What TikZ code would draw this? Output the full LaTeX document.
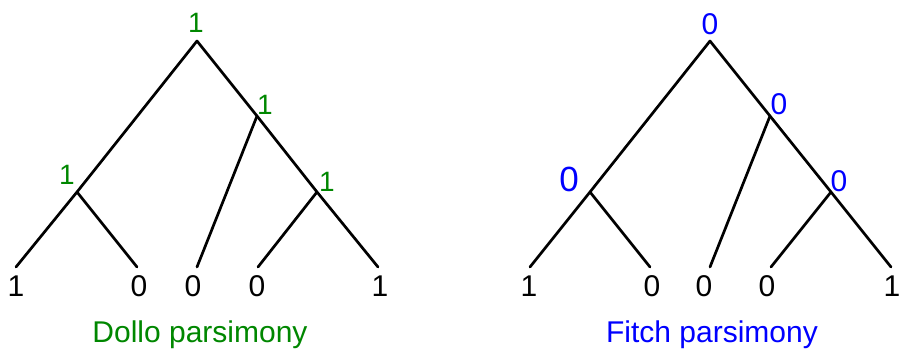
\documentclass[tikz,border=0pt]{standalone}
\usepackage{fontspec}
\setmainfont{Liberation Sans}
\definecolor{dgreen}{RGB}{0,135,0}
\definecolor{fblue}{RGB}{0,0,255}
\begin{document}
\begin{tikzpicture}[x=1pt,y=-1pt,
  branch/.style={line width=2.7pt,line cap=round,line join=round},
  leaflab/.style={inner sep=0pt,anchor=base,font=\fontsize{30}{36}\selectfont},
  dollolab/.style={inner sep=0pt,anchor=base,text=dgreen,font=\fontsize{28}{34}\selectfont},
  fitchlab/.style={inner sep=0pt,anchor=base,text=fblue,font=\fontsize{30}{36}\selectfont},
  caption/.style={inner sep=0pt,anchor=base,font=\fontsize{30}{36}\selectfont}]
\useasboundingbox (0,0) rectangle (899,352);
% ---------- Dollo tree ----------
\coordinate (dr) at (197,41);
\coordinate (dR) at (257,116);
\coordinate (dL) at (77,192);
\coordinate (dRR) at (317,192);
\coordinate (d1) at (16,267);
\coordinate (d2) at (137,267);
\coordinate (d3) at (197,267);
\coordinate (d4) at (258,267);
\coordinate (d5) at (378,267);
\draw[branch] (d1) -- (dL) -- (dr) -- (dR) -- (dRR) -- (d5);
\draw[branch] (dL) -- (d2);
\draw[branch] (dR) -- (d3);
\draw[branch] (dRR) -- (d4);
\node[dollolab] (dlr) at (196,33) {1};
\node[dollolab] (dlR) at (265,115) {1};
\node[dollolab] (dlL) at (67,185) {1};
\node[dollolab] (dlRR) at (327,192) {1};
\node[leaflab] (dt1) at (16,297) {1};
\node[leaflab] (dt2) at (139,297) {0};
\node[leaflab] (dt3) at (193,297) {0};
\node[leaflab] (dt4) at (257,297) {0};
\node[leaflab] (dt5) at (380,297) {1};
\node[caption,text=dgreen] (dcap) at (200,343) {Dollo parsimony};
% ---------- Fitch tree ----------
\coordinate (fr) at (710,41);
\coordinate (fR) at (770,116);
\coordinate (fL) at (590,192);
\coordinate (fRR) at (831,192);
\coordinate (f1) at (530,267);
\coordinate (f2) at (650,267);
\coordinate (f3) at (710,267);
\coordinate (f4) at (771,267);
\coordinate (f5) at (891,267);
\draw[branch] (f1) -- (fL) -- (fr) -- (fR) -- (fRR) -- (f5);
\draw[branch] (fL) -- (f2);
\draw[branch] (fR) -- (f3);
\draw[branch] (fRR) -- (f4);
\node[fitchlab] (flr) at (710,35) {0};
\node[fitchlab] (flR) at (779,115) {0};
\node[fitchlab,font=\fontsize{35}{42}\selectfont] (flL) at (569,192) {0};
\node[fitchlab] (flRR) at (839,192) {0};
\node[leaflab] (ft1) at (529,297) {1};
\node[leaflab] (ft2) at (652,297) {0};
\node[leaflab] (ft3) at (704,297) {0};
\node[leaflab] (ft4) at (767,297) {0};
\node[leaflab] (ft5) at (892,297) {1};
\node[caption,text=fblue] (fcap) at (712,343) {Fitch parsimony};
\end{tikzpicture}
\end{document}
